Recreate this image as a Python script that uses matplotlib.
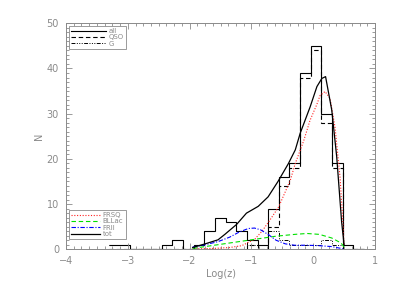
import matplotlib
matplotlib.use('Agg')
import matplotlib.pyplot as plt
import numpy as np
from matplotlib.ticker import MultipleLocator
from matplotlib.lines import Line2D


# histogram bins in Log(z)
BIN_START = -3.312
BIN_WIDTH = 0.1722
all_counts = [1, 1, 0, 0, 0, 1, 2, 0, 1, 4, 7, 6, 4, 2, 1, 9, 16, 19, 39, 45, 30, 19, 1, 0]
qso_counts = [0, 0, 0, 0, 0, 0, 0, 0, 0, 0, 0, 0, 0, 1, 0, 5, 14, 18, 38, 44, 28, 18, 0, 0]
g_counts = [1, 1, 0, 0, 0, 1, 2, 0, 1, 4, 7, 6, 4, 1, 1, 4, 2, 1, 1, 1, 2, 1, 1, 0]

# model curves
frsq_x = [-1.95, -1.6, -1.35, -1.157, -1.023, -0.942, -0.828, -0.699, -0.558, -0.37,
          -0.29, -0.154, -0.052, 0.057, 0.11, 0.191, 0.272, 0.353, 0.434, 0.487, 0.498]
frsq_y = [0.1, 0.2, 0.4, 0.8, 1.7, 2.3, 4.0, 6.5, 9.4, 15.3,
          19.0, 24.0, 28.5, 32.0, 34.0, 34.9, 33.4, 27.0, 16.0, 4.3, 1.0]

bllac_x = [-1.95, -1.7, -1.45, -1.2, -0.9, -0.6, -0.3, -0.1, 0.1, 0.3, 0.45, 0.5]
bllac_y = [0.2, 0.7, 1.2, 1.7, 2.3, 2.9, 3.3, 3.5, 3.3, 2.5, 1.4, 0.5]

frii_x = [-1.95, -1.75, -1.54, -1.35, -1.2, -1.05, -0.95, -0.85, -0.72, -0.6,
          -0.45, -0.3, -0.1, 0.1, 0.3, 0.45, 0.5]
frii_y = [0.5, 1.0, 1.7, 2.7, 3.8, 4.6, 4.7, 4.3, 3.2, 2.0,
          1.2, 0.9, 0.9, 0.8, 0.6, 0.2, 0.0]

tot_x = [-1.95, -1.75, -1.54, -1.43, -1.24, -1.08, -0.89, -0.73, -0.57, -0.40,
         -0.29, -0.21, -0.05, 0.06, 0.14, 0.20, 0.30, 0.38, 0.46, 0.50]
tot_y = [0.4, 1.2, 2.1, 3.3, 5.5, 8.0, 9.5, 11.6, 15.0, 19.0,
         22.0, 25.7, 31.5, 36.0, 37.8, 38.2, 30.8, 20.5, 6.0, 1.0]

GREY = '#8a8a8a'
DASH_DOT3 = (0, (4, 1.5, 1, 1.5, 1, 1.5, 1, 1.5))

fig = plt.figure(figsize=(3.95, 2.91), dpi=100)
ax = fig.add_axes([0.1671, 0.1433, 0.7823, 0.7767])

edges = BIN_START + BIN_WIDTH * np.arange(len(all_counts) + 1)
ax.stairs(all_counts, edges, color='black', lw=0.8, baseline=None)
ax.stairs(qso_counts, edges, color='black', lw=0.8, ls=(0, (4, 2.5)), baseline=None)
ax.stairs(g_counts, edges, color='black', lw=0.7, ls=DASH_DOT3, baseline=None)

ax.plot(frsq_x, frsq_y, color='#ff2020', lw=0.8, ls=(0, (1, 1.5)))
ax.plot(bllac_x, bllac_y, color='#00e000', lw=0.8, ls=(0, (4, 2.5)))
ax.plot(frii_x, frii_y, color='#0000ff', lw=0.8, ls=(0, (4, 1.5, 1, 1.5)))
ax.plot(tot_x, tot_y, color='black', lw=0.9)

ax.set_xlim(-4, 1)
ax.set_ylim(0, 50)
ax.xaxis.set_major_locator(MultipleLocator(1))
ax.xaxis.set_minor_locator(MultipleLocator(0.125))
ax.yaxis.set_major_locator(MultipleLocator(10))
ax.yaxis.set_minor_locator(MultipleLocator(1))
ax.tick_params(which='both', direction='in', top=True, right=True, color=GREY,
               labelcolor=GREY, labelsize=7, width=0.6)
ax.tick_params(which='major', length=4, pad=5)
ax.tick_params(which='minor', length=2)
for s in ax.spines.values():
    s.set_color(GREY)
    s.set_linewidth(0.7)

ax.set_xlabel('Log(z)', color=GREY, fontsize=7, labelpad=2)
ax.set_ylabel('N', color=GREY, fontsize=7, labelpad=2)

h1 = [Line2D([], [], color='black', lw=0.8),
      Line2D([], [], color='black', lw=0.8, ls=(0, (4, 2.5))),
      Line2D([], [], color='black', lw=0.7, ls=DASH_DOT3)]
leg1 = ax.legend(h1, ['all', 'QSO', 'G'], loc='upper left', fontsize=5,
                 handlelength=5, handletextpad=0.4, labelspacing=0.05,
                 borderpad=0.3, borderaxespad=0.4, fancybox=False,
                 edgecolor=GREY, framealpha=1, labelcolor=GREY)
leg1.get_frame().set_linewidth(0.6)
ax.add_artist(leg1)

h2 = [Line2D([], [], color='#ff2020', lw=0.8, ls=(0, (1, 1.5))),
      Line2D([], [], color='#00e000', lw=0.8, ls=(0, (4, 2.5))),
      Line2D([], [], color='#0000ff', lw=0.8, ls=(0, (4, 1.5, 1, 1.5))),
      Line2D([], [], color='black', lw=0.9)]
leg2 = ax.legend(h2, ['FRSQ', 'BLLac', 'FRII', 'tot'], loc='lower left', fontsize=5,
                 handlelength=4.2, handletextpad=0.4, labelspacing=0.05,
                 borderpad=0.3, borderaxespad=0.4, fancybox=False,
                 edgecolor=GREY, framealpha=1, labelcolor=GREY,
                 bbox_to_anchor=(0, 0.033))
leg2.get_frame().set_linewidth(0.6)

fig.savefig('out.png', dpi=100)
